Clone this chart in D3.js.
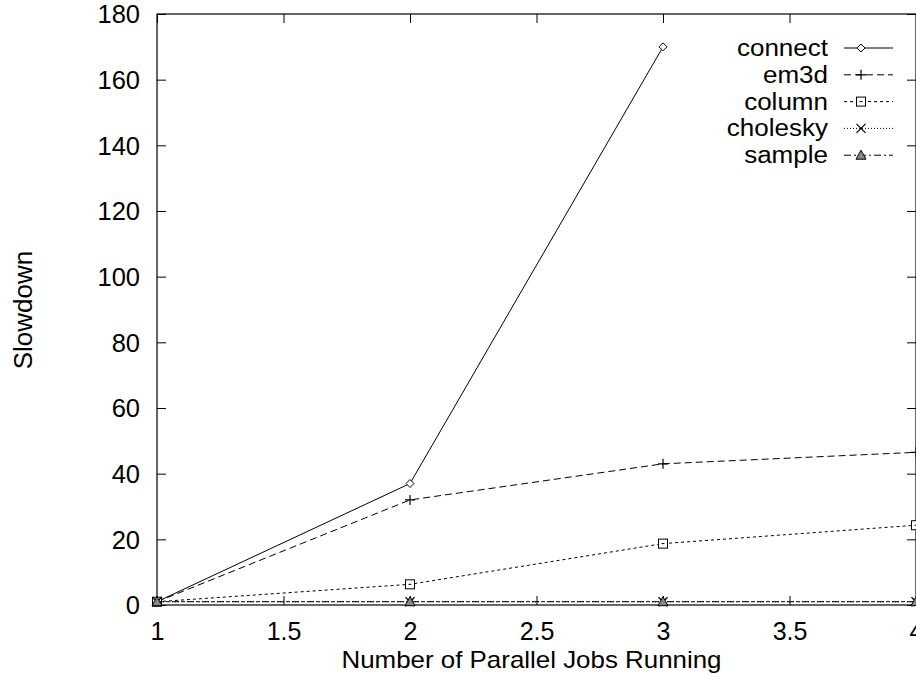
<!DOCTYPE html>
<html>
<head>
<meta charset="utf-8">
<script src="https://cdn.jsdelivr.net/npm/d3@7"></script>
<style>
  html, body { margin: 0; padding: 0; background: #fff; }
  svg { display: block; }
  text { font-family: "Liberation Sans", Arial, sans-serif; fill: #000; }
</style>
</head>
<body>
<svg id="chart" width="916" height="674"></svg>
<script>
// ---- data ----
const xJobs = [1, 2, 3, 4];
const connectVals = [1, 37, 170];
const em3dVals = [1, 32, 43, 46.5];
const columnVals = [1, 6.3, 18.7, 24.3];
const choleskyVals = [1, 1, 1, 1];
const sampleVals = [1, 1, 1, 1];
const seriesNames = ["connect", "em3d", "column", "cholesky", "sample"];
const xTicks = [1, 1.5, 2, 2.5, 3, 3.5, 4];
const yTicks = [0, 20, 40, 60, 80, 100, 120, 140, 160, 180];
const xTitle = "Number of Parallel Jobs Running";
const yTitle = "Slowdown";

// ---- layout ----
const svg = d3.select("#chart");
const L = 157, R = 916, T = 14, B = 605;
const x = d3.scaleLinear().domain([1, 4]).range([L, R]);
const y = d3.scaleLinear().domain([0, 180]).range([B, T]);
const fs = 25.5;
const tickLen = 9;

const series = [
  { name: seriesNames[0], vals: connectVals, dash: null, marker: "diamond" },
  { name: seriesNames[1], vals: em3dVals, dash: "7,4", marker: "plus" },
  { name: seriesNames[2], vals: columnVals, dash: "3,3", marker: "square" },
  { name: seriesNames[3], vals: choleskyVals, dash: "1,2", marker: "cross" },
  { name: seriesNames[4], vals: sampleVals, dash: "7,3,2,3", marker: "triangle" }
];

// frame
svg.append("rect").attr("x", L).attr("y", T).attr("width", R - L).attr("height", B - T)
  .attr("fill", "none").attr("stroke", "#000").attr("stroke-width", 1.2);

// axes via d3 axis (inner ticks)
const gx = svg.append("g").attr("transform", `translate(0,${B})`)
  .call(d3.axisBottom(x).tickValues(xTicks).tickSize(-tickLen).tickPadding(20)
    .tickFormat(d3.format("")));
const gxTop = svg.append("g").attr("transform", `translate(0,${T})`)
  .call(d3.axisTop(x).tickValues(xTicks).tickSize(-tickLen).tickFormat(""));
const gy = svg.append("g").attr("transform", `translate(${L},0)`)
  .call(d3.axisLeft(y).tickValues(yTicks).tickSize(-tickLen).tickPadding(17));
const gyR = svg.append("g").attr("transform", `translate(${R},0)`)
  .call(d3.axisRight(y).tickValues(yTicks).tickSize(-tickLen).tickFormat(""));
[gx, gxTop, gy, gyR].forEach(g => {
  g.select(".domain").remove();
  g.selectAll(".tick line").attr("stroke", "#000").attr("stroke-width", 1);
  g.selectAll("text").attr("font-size", fs).attr("font-family", "Liberation Sans, Arial, sans-serif").attr("fill", "#000");
});
gx.selectAll("text").attr("font-size", 25).attr("dy", null).attr("y", 35).attr("dominant-baseline", "auto");
gy.selectAll("text").attr("dy", "0.35em");

// titles
const xt = svg.append("text").attr("x", (L + R) / 2 - 5).attr("y", 668).attr("text-anchor", "middle")
  .attr("font-size", 24).text(xTitle);
xt.attr("textLength", 380).attr("lengthAdjust", "spacingAndGlyphs");
svg.append("text").attr("transform", `translate(32,310) rotate(-90)`).attr("text-anchor", "middle")
  .attr("font-size", 26).text(yTitle);

// markers
function drawMarker(g, type, cx, cy) {
  const s = 4;
  if (type === "diamond") {
    g.append("path").attr("d", `M${cx},${cy - s}L${cx + s},${cy}L${cx},${cy + s}L${cx - s},${cy}Z`)
      .attr("fill", "#fff").attr("stroke", "#000").attr("stroke-width", 1);
  } else if (type === "plus") {
    g.append("path").attr("d", `M${cx - 5},${cy}H${cx + 5}M${cx},${cy - 5}V${cy + 5}`)
      .attr("stroke", "#000").attr("stroke-width", 1.2).attr("fill", "none");
  } else if (type === "square") {
    g.append("rect").attr("x", cx - 4.5).attr("y", cy - 4.5).attr("width", 9).attr("height", 9)
      .attr("fill", "#fff").attr("stroke", "#000").attr("stroke-width", 1);
    g.append("path").attr("d", `M${cx - 1.5},${cy}H${cx + 1.5}`).attr("stroke", "#000").attr("stroke-width", 1);
  } else if (type === "cross") {
    g.append("path").attr("d", `M${cx - 4.5},${cy - 4.5}L${cx + 4.5},${cy + 4.5}M${cx - 4.5},${cy + 4.5}L${cx + 4.5},${cy - 4.5}`)
      .attr("stroke", "#000").attr("stroke-width", 1.2).attr("fill", "none");
  } else if (type === "triangle") {
    g.append("path").attr("d", `M${cx},${cy - 5}L${cx + 5},${cy + 4}L${cx - 5},${cy + 4}Z`)
      .attr("fill", "#888").attr("stroke", "#000").attr("stroke-width", 1);
  }
}

const line = d3.line().x(d => x(d[0])).y(d => y(d[1]));
const plot = svg.append("g");
series.forEach(s => {
  const pts = s.vals.map((v, i) => [xJobs[i], v]);
  plot.append("path").datum(pts).attr("d", line).attr("fill", "none")
    .attr("stroke", "#000").attr("stroke-width", 1)
    .attr("stroke-dasharray", s.dash);
  pts.forEach(p => drawMarker(plot, s.marker, x(p[0]), y(p[1])));
});

// legend (slightly smaller font, stretched to reference width so rows don't collide)
const leg = svg.append("g");
const legFs = 23;
series.forEach((s, i) => {
  const cy = 48 + i * 26.8;
  const t = leg.append("text").attr("x", 828).attr("y", cy).attr("dy", "0.35em").attr("text-anchor", "end")
    .attr("font-size", legFs).text(s.name);
  const w = t.node().getComputedTextLength();
  t.attr("textLength", w * 26 / legFs).attr("lengthAdjust", "spacingAndGlyphs");
  leg.append("line").attr("x1", 844).attr("x2", 893).attr("y1", cy).attr("y2", cy)
    .attr("stroke", "#000").attr("stroke-width", 1).attr("stroke-dasharray", s.dash);
  drawMarker(leg, s.marker, 861, cy);
});
</script>
</body>
</html>
